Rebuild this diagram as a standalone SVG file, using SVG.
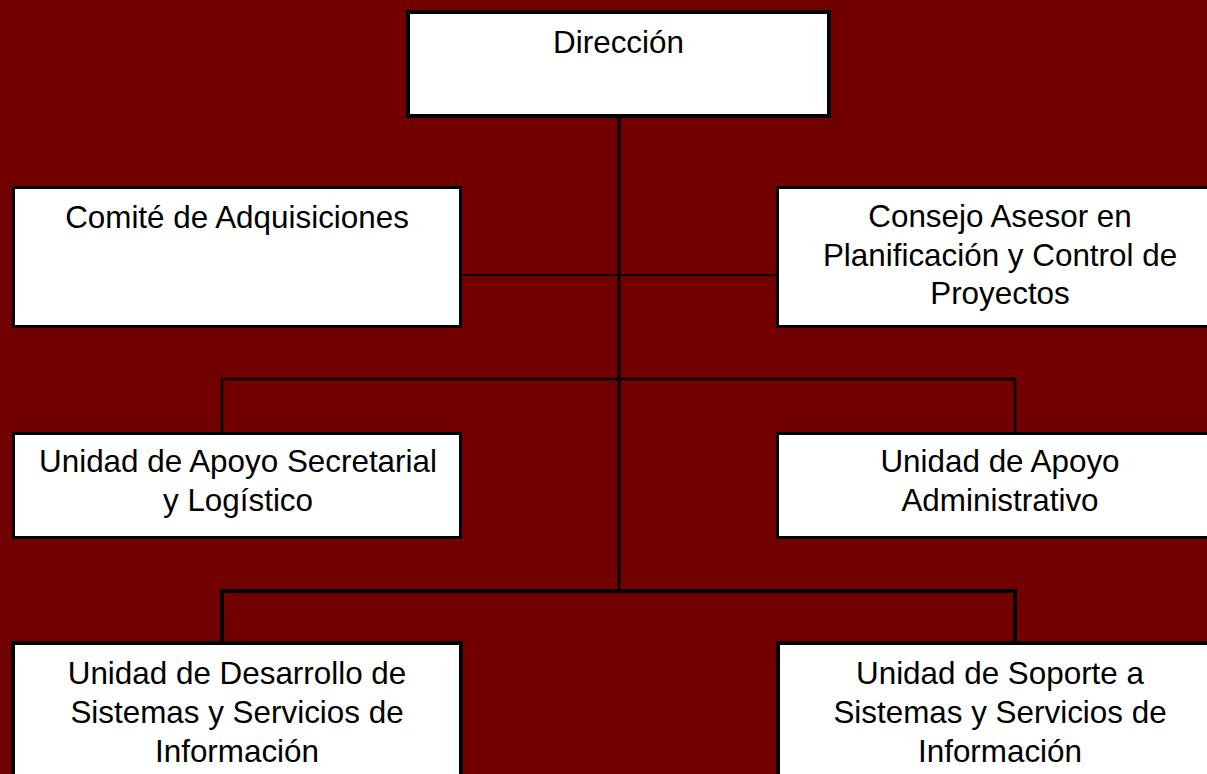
<svg xmlns="http://www.w3.org/2000/svg" width="1207" height="774" viewBox="0 0 1207 774">
<style>
.box{fill:#ffffff;stroke:#000000}
.t{font-family:"Liberation Sans",Arial,sans-serif;font-size:31.4px;fill:#000000;text-anchor:middle}
.c{stroke:#000000;fill:none}
</style>
<rect x="0" y="0" width="1207" height="774" fill="#720000"/>
<g id="connectors">
<line class="c" x1="619" y1="116" x2="619" y2="593" stroke-width="3"/>
<line class="c" x1="460" y1="275" x2="778" y2="275" stroke-width="2"/>
<polyline class="c" points="222,434 222,379 1015,379 1015,434" stroke-width="2.5"/>
<polyline class="c" points="222,643 222,591 1015,591 1015,643" stroke-width="4"/>
</g>
<g id="direccion">
<rect class="box" x="408" y="12" width="421" height="104" stroke-width="4"/>
<text class="t" x="618.5" y="53">Dirección</text>
</g>
<g id="comite">
<rect class="box" x="13.5" y="187.5" width="447" height="139" stroke-width="3"/>
<text class="t" x="237" y="228">Comité de Adquisiciones</text>
</g>
<g id="consejo">
<rect class="box" x="777.5" y="187.5" width="447" height="139" stroke-width="3"/>
<text class="t" x="1000" y="227">Consejo Asesor en</text>
<text class="t" x="1000" y="265.5">Planificación y Control de</text>
<text class="t" x="1000" y="304">Proyectos</text>
</g>
<g id="apoyo-secretarial">
<rect class="box" x="13.5" y="433.5" width="447" height="104" stroke-width="3"/>
<text class="t" x="238" y="472">Unidad de Apoyo Secretarial</text>
<text class="t" x="238" y="510.5">y Logístico</text>
</g>
<g id="apoyo-administrativo">
<rect class="box" x="777.5" y="433.5" width="447" height="104" stroke-width="3"/>
<text class="t" x="1000" y="472">Unidad de Apoyo</text>
<text class="t" x="1000" y="510.5">Administrativo</text>
</g>
<g id="desarrollo">
<rect class="box" x="13" y="643" width="448" height="200" stroke-width="4"/>
<text class="t" x="237" y="684">Unidad de Desarrollo de</text>
<text class="t" x="237" y="723">Sistemas y Servicios de</text>
<text class="t" x="237" y="762">Información</text>
</g>
<g id="soporte">
<rect class="box" x="778" y="643" width="448" height="200" stroke-width="4"/>
<text class="t" x="1000" y="684">Unidad de Soporte a</text>
<text class="t" x="1000" y="723">Sistemas y Servicios de</text>
<text class="t" x="1000" y="762">Información</text>
</g>
</svg>
